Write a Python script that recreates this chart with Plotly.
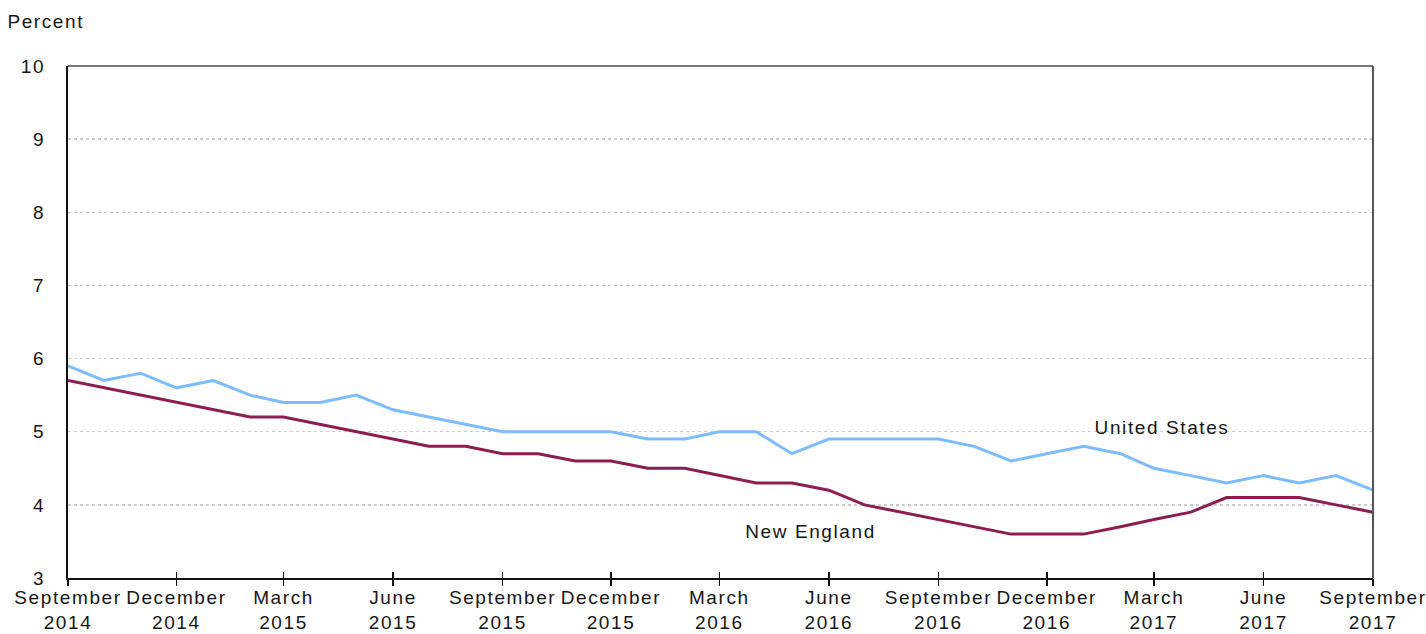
import plotly.graph_objects as go

months = ["2014-09", "2014-10", "2014-11", "2014-12",
          "2015-01", "2015-02", "2015-03", "2015-04", "2015-05", "2015-06",
          "2015-07", "2015-08", "2015-09", "2015-10", "2015-11", "2015-12",
          "2016-01", "2016-02", "2016-03", "2016-04", "2016-05", "2016-06",
          "2016-07", "2016-08", "2016-09", "2016-10", "2016-11", "2016-12",
          "2017-01", "2017-02", "2017-03", "2017-04", "2017-05", "2017-06",
          "2017-07", "2017-08", "2017-09"]

united_states = [5.9, 5.7, 5.8, 5.6, 5.7, 5.5, 5.4, 5.4, 5.5, 5.3,
                 5.2, 5.1, 5.0, 5.0, 5.0, 5.0, 4.9, 4.9, 5.0, 5.0,
                 4.7, 4.9, 4.9, 4.9, 4.9, 4.8, 4.6, 4.7, 4.8, 4.7,
                 4.5, 4.4, 4.3, 4.4, 4.3, 4.4, 4.2]

new_england = [5.7, 5.6, 5.5, 5.4, 5.3, 5.2, 5.2, 5.1, 5.0, 4.9,
               4.8, 4.8, 4.7, 4.7, 4.6, 4.6, 4.5, 4.5, 4.4, 4.3,
               4.3, 4.2, 4.0, 3.9, 3.8, 3.7, 3.6, 3.6, 3.6, 3.7,
               3.8, 3.9, 4.1, 4.1, 4.1, 4.0, 3.9]

tick_vals = ["2014-09", "2014-12", "2015-03", "2015-06", "2015-09", "2015-12",
             "2016-03", "2016-06", "2016-09", "2016-12", "2017-03", "2017-06", "2017-09"]
tick_text = ["September<br>2014", "December<br>2014", "March<br>2015", "June<br>2015",
             "September<br>2015", "December<br>2015", "March<br>2016", "June<br>2016",
             "September<br>2016", "December<br>2016", "March<br>2017", "June<br>2017",
             "September<br>2017"]
y_ticks = [3, 4, 5, 6, 7, 8, 9, 10]

FONT = "Liberation Sans, Arial, sans-serif"
TXT = "#161616"
FS = 19

fig = go.Figure()
fig.add_trace(go.Scatter(x=months, y=united_states, mode="lines", name="United States",
                         line=dict(color="#7cbcff", width=3), showlegend=False,
                         hoverinfo="skip"))
fig.add_trace(go.Scatter(x=months, y=new_england, mode="lines", name="New England",
                         line=dict(color="#8c1d4e", width=3), showlegend=False,
                         xaxis="x2", hoverinfo="skip"))

tv = [m + "-01" for m in tick_vals]

fig.update_layout(
    width=1426, height=634,
    margin=dict(l=68, r=53, t=66, b=56, autoexpand=False),
    paper_bgcolor="white", plot_bgcolor="white",
    font=dict(family=FONT, size=FS, color=TXT),
    xaxis=dict(
        type="date", range=["2014-09-01", "2017-09-01"],
        tickvals=tv, ticktext=tick_text,
        ticks="inside", ticklen=6, tickwidth=1.5, tickcolor="#111",
        showline=True, linecolor="#111", linewidth=2,
        showgrid=False, zeroline=False, automargin=False,
        ticklabelstandoff=1,
        tickfont=dict(family=FONT, size=FS, color=TXT),
    ),
    xaxis2=dict(
        type="date", matches="x", overlaying="x", anchor="y",
        tickvals=tv, ticks="outside", ticklen=7, tickwidth=1.5, tickcolor="#111",
        showticklabels=False, showline=False, showgrid=False, zeroline=False,
    ),
    yaxis=dict(
        range=[3, 10], tickvals=y_ticks,
        showline=True, linecolor="#111", linewidth=2,
        showgrid=True, gridcolor="#cccccc", griddash="dot", gridwidth=1.5,
        zeroline=False, ticks="", ticklabelstandoff=17, automargin=False,
        tickfont=dict(family=FONT, size=FS, color=TXT),
    ),
    shapes=[
        dict(type="line", xref="paper", yref="paper", x0=0, x1=1, y0=1, y1=1,
             line=dict(color="#777777", width=2)),
        dict(type="line", xref="paper", yref="paper", x0=1, x1=1, y0=0, y1=1,
             line=dict(color="#555555", width=2)),
    ],
    annotations=[
        dict(text="Percent", xref="paper", yref="paper", x=-0.0437, y=1.086,
             xanchor="left", yanchor="middle", showarrow=False,
             font=dict(family=FONT, size=FS, color=TXT)),
        dict(text="United States", xref="x", yref="y", x="2017-03-08", y=5.06,
             xanchor="center", yanchor="middle", showarrow=False,
             font=dict(family=FONT, size=FS, color=TXT)),
        dict(text="New England", xref="x", yref="y", x="2016-05-17", y=3.63,
             xanchor="center", yanchor="middle", showarrow=False,
             font=dict(family=FONT, size=FS, color=TXT)),
    ],
)

post = """
document.body.style.margin = '0';
var st = document.createElement('style');
st.textContent = '.main-svg text { letter-spacing: 1.6px; }';
document.head.appendChild(st);
"""

fig.write_html("out.html", post_script=post,
               config={"displayModeBar": False, "staticPlot": True})
